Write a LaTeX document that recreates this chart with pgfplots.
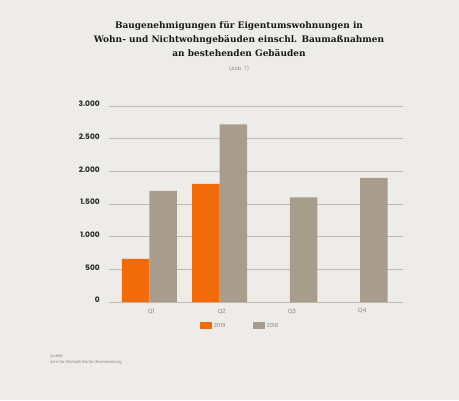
\documentclass[border=0pt]{standalone}
\usepackage{fontspec}
\setmainfont{Poppins}
\newfontfamily\titlefont{DejaVu Serif}
\usepackage{pgfplots}
\pgfplotsset{compat=1.18}
\definecolor{bg}{HTML}{EEECE8}
\definecolor{orng}{HTML}{F26A0A}
\definecolor{taupe}{HTML}{A89C8C}
\definecolor{gridc}{HTML}{BDBAB5}
\definecolor{lbl}{HTML}{8A8782}
\begin{document}
\begin{tikzpicture}[x=1bp,y=1bp]
\fill[bg] (0,0) rectangle (459,400);
\node[font=\titlefont\bfseries\fontsize{9}{14}\selectfont, align=center, text=black!90] at (239,361) {Baugenehmigungen für Eigentumswohnungen in\\Wohn- und Nichtwohngebäuden einschl. Baumaßnahmen\\an bestehenden Gebäuden};
\node[font=\fontsize{5}{6}\selectfont, text=lbl] at (239,331) {(Abb. 7)};
\node[font=\fontsize{4}{6}\selectfont, text=lbl, anchor=west, inner sep=0pt] at (50,44) {Quelle};
\node[font=\fontsize{4}{6}\selectfont, text=lbl, anchor=west, inner sep=0pt] at (50,37) {Amt für Statistik Berlin-Brandenburg};
\begin{axis}[
  at={(109bp,98bp)}, anchor=south west,
  scale only axis, width=294bp, height=196bp,
  ybar=0pt, bar width=27.5bp,
  xmin=-0.573, xmax=3.609, ymin=0, ymax=3000,
  xtick={0,1,2,3}, xticklabels={Q1,Q2,Q3,Q4},
  ytick={0,500,1000,1500,2000,2500,3000},
  major tick length=0pt,
  axis x line*=bottom, axis y line*=left,
  x axis line style={draw=gridc, line width=0.8bp, -},
  y axis line style={draw=none},
  ymajorgrids, grid style={draw=gridc, line width=0.8bp},
  /pgf/number format/.cd, assume math mode=true, 1000 sep={.}, min exponent for 1000 sep=3,
  /pgfplots/.cd,
  yticklabel style={font=\bfseries\fontsize{7.5}{9}\selectfont, text=black!85, anchor=east, inner sep=0pt, xshift=-9bp, yshift=2bp},
  xticklabel style={font=\fontsize{6}{7}\selectfont, text=lbl, anchor=north, inner sep=0pt, yshift=-6.5bp, xshift=2bp},
  legend style={at={(0.31,-0.1224)}, anchor=west, draw=none, fill=none,
    font=\fontsize{5.5}{6}\selectfont, text=lbl, legend columns=2,
    /tikz/every even column/.append style={column sep=26bp},
    inner sep=0pt, nodes={inner sep=1.5bp}},
  legend image code/.code={\fill[#1] (0bp,-3.5bp) rectangle (12bp,3.5bp);},
]
\addplot[fill=orng, draw=none] coordinates {(0,660) (1,1810)};
\addplot[fill=taupe, draw=none] coordinates {(0,1700) (1,2720) (2,1600) (3,1900)};
\legend{2019,2018}
\end{axis}
\end{tikzpicture}
\end{document}
